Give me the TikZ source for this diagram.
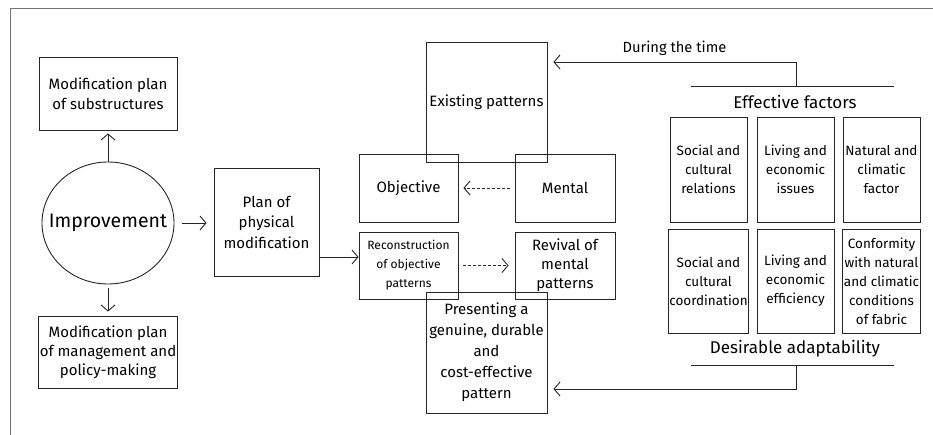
\documentclass[tikz,border=0pt]{standalone}
\usepackage{fontspec}
\setmainfont{Fira Sans}
\usetikzlibrary{arrows.meta,shapes.geometric}
\tikzset{
  box/.style={draw=black!85, line width=0.9pt, rectangle, align=center, inner sep=1pt,
    font=\fontsize{15}{20.5}\selectfont},
  fbox/.style={box, minimum width=77pt, font=\fontsize{13.5}{19}\selectfont},
  arr/.style={draw=black!85, line width=0.9pt, -{Straight Barb[length=6pt,width=14pt,line width=0.9pt]}},
  dotarr/.style={arr, dash pattern=on 3pt off 2pt},
  lbl/.style={font=\fontsize{14.7}{20}\selectfont, inner sep=0pt},
  ln/.style={draw=black!85, line width=0.9pt}
}
\begin{document}
\begin{tikzpicture}[x=1pt,y=-1pt]
\useasboundingbox (0,0) rectangle (933,435);
% frame
\draw[black!55, line width=1pt] (10,435) -- (10,9) -- (933,9);
% left part
\node[box, minimum width=138pt, minimum height=73pt] (sub) at (108,93.5) {Modification plan\\of substructures};
\node[box, minimum width=138pt, minimum height=72pt, font=\fontsize{15}{19}\selectfont] (mgmt) at (108,352) {Modification plan\\of management and\\policy-making};
\node[draw=black!85, line width=0.9pt, ellipse, minimum width=132pt, minimum height=122pt,
  inner xsep=-13pt, inner ysep=0pt, font=\fontsize{19.5}{22}\selectfont] (imp) at (108,223) {Improvement};
\node[box, minimum width=105pt, minimum height=108pt] (plan) at (266.5,222) {Plan of\\physical\\modification};
\draw[arr, shorten >=3pt] (imp.north) -- (sub.south);
\draw[arr, shorten <=4pt, shorten >=4pt] (imp.south) -- (mgmt.north);
\draw[arr, shorten <=8pt, shorten >=7pt] (imp.east) -- (plan.west |- imp.east);
% middle
\node[box, minimum width=121pt, minimum height=120pt] (exist) at (486.5,102) {Existing patterns};
\node[box, minimum width=99pt, minimum height=68pt] (obj) at (408.5,188) {Objective};
\node[box, minimum width=100pt, minimum height=68pt] (ment) at (565,188) {Mental};
\node[box, minimum width=99pt, minimum height=67pt, font=\fontsize{12}{19}\selectfont] (recon) at (408.5,265.5) {Reconstruction\\of objective\\patterns};
\node[box, minimum width=100pt, minimum height=67pt, font=\fontsize{15}{19}\selectfont] (rev) at (565,265.5) {Revival of\\mental\\patterns};
\node[box, minimum width=121pt, minimum height=121pt, font=\fontsize{15}{21}\selectfont] (pres) at (486.5,352.5) {Presenting a\\genuine, durable\\and\\cost-effective\\pattern};
\draw[dotarr, shorten <=5pt, shorten >=5pt] (ment.west) -- (obj.east);
\draw[dotarr, shorten <=5pt, shorten >=6pt] (recon.east) -- (rev.west);
\draw[arr] (plan.east |- 0,257) -- (recon.west |- 0,257);
% right part
\node[lbl] (time) at (674.5,48) {During the time};
\node[lbl, font=\fontsize{17}{20}\selectfont] (eff) at (795,102) {Effective factors};
\node[lbl, font=\fontsize{17}{20}\selectfont] (des) at (795,349) {Desirable adaptability};
\node[fbox, minimum height=105pt] (f1) at (708.5,169.5) {Social and\\cultural\\relations};
\node[fbox, minimum height=105pt] (f2) at (795.5,169.5) {Living and\\economic\\issues};
\node[fbox, minimum height=105pt] (f3) at (881.5,169.5) {Natural and\\climatic\\factor};
\node[fbox, minimum height=104pt] (f4) at (708.5,281) {Social and\\cultural\\coordination};
\node[fbox, minimum height=104pt] (f5) at (795.5,281) {Living and\\economic\\efficiency};
\node[fbox, minimum height=104pt] (f6) at (881.5,281) {Conformity\\with natural\\and climatic\\conditions\\of fabric};
\coordinate (tl) at (691,86);
\coordinate (tr) at (894,86);
\coordinate (tm) at (796,86);
\coordinate (tk) at (796,62);
\coordinate (bl) at (691,365);
\coordinate (br) at (894,365);
\coordinate (bm) at (796,365);
\coordinate (bk) at (796,389);
\draw[ln] (tl) -- (tr);
\draw[ln] (bl) -- (br);
\draw[arr, shorten >=6pt] (tm) -- (tk) -- (exist.east |- tk);
\draw[arr, shorten >=6pt] (bm) -- (bk) -- (pres.east |- bk);
\end{tikzpicture}
\end{document}
